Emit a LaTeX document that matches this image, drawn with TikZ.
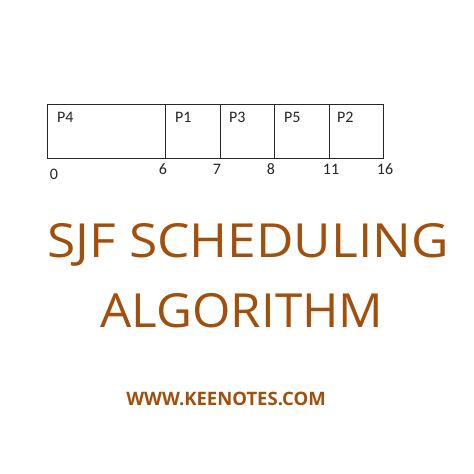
\documentclass[tikz,border=0pt]{standalone}
\usepackage{fontspec}
\setmainfont{Open Sans}
\newfontfamily\gantt{Carlito}
\definecolor{brownt}{RGB}{160,80,12}
\definecolor{linec}{RGB}{40,40,40}
\begin{document}
\begin{tikzpicture}[x=1pt,y=-1pt,
  cell/.style={draw=linec,line width=0.8pt,anchor=north west,minimum height=54pt,inner sep=0pt},
  plabel/.style={font=\gantt\fontsize{16}{16}\selectfont,anchor=west,inner sep=0pt,text=black!85},
  tick/.style={font=\gantt\fontsize{16}{16}\selectfont,inner sep=0pt,text=black!85},
  title/.style={font=\fontsize{47}{47}\selectfont,text=brownt,inner sep=0pt},
  web/.style={font=\bfseries\fontsize{18.5}{18.5}\selectfont,text=brownt,inner sep=0pt}]
\useasboundingbox[fill=white] (0,0) rectangle (474,474);
\node[cell,minimum width=118pt] (c4) at (47,104) {};
\node[cell,minimum width=55pt] (c1) at (165,104) {};
\node[cell,minimum width=54pt] (c3) at (220,104) {};
\node[cell,minimum width=55pt] (c5) at (274,104) {};
\node[cell,minimum width=54pt] (c2) at (329,104) {};
\node[plabel] (l4) at (57,117) {P4};
\node[plabel] (l1) at (175,117) {P1};
\node[plabel] (l3) at (229,117) {P3};
\node[plabel] (l5) at (284,117) {P5};
\node[plabel] (l2) at (337,117) {P2};
\node[tick] (t0) at (54,174) {0};
\node[tick] (t6) at (163,169) {6};
\node[tick] (t7) at (217,169) {7};
\node[tick] (t8) at (271,169) {8};
\node[tick] (t11) at (331,169) {11};
\node[tick] (t16) at (385,169) {16};
\node[title] (title1) at (248,245) {\scalebox{1.095}[1]{SJF SCHEDULING}};
\node[title] (title2) at (242,311) {\scalebox{1.05}[1]{ALGORITHM}};
\node[web] (site) at (226,399) {WWW.KEENOTES.COM};
\end{tikzpicture}
\end{document}
